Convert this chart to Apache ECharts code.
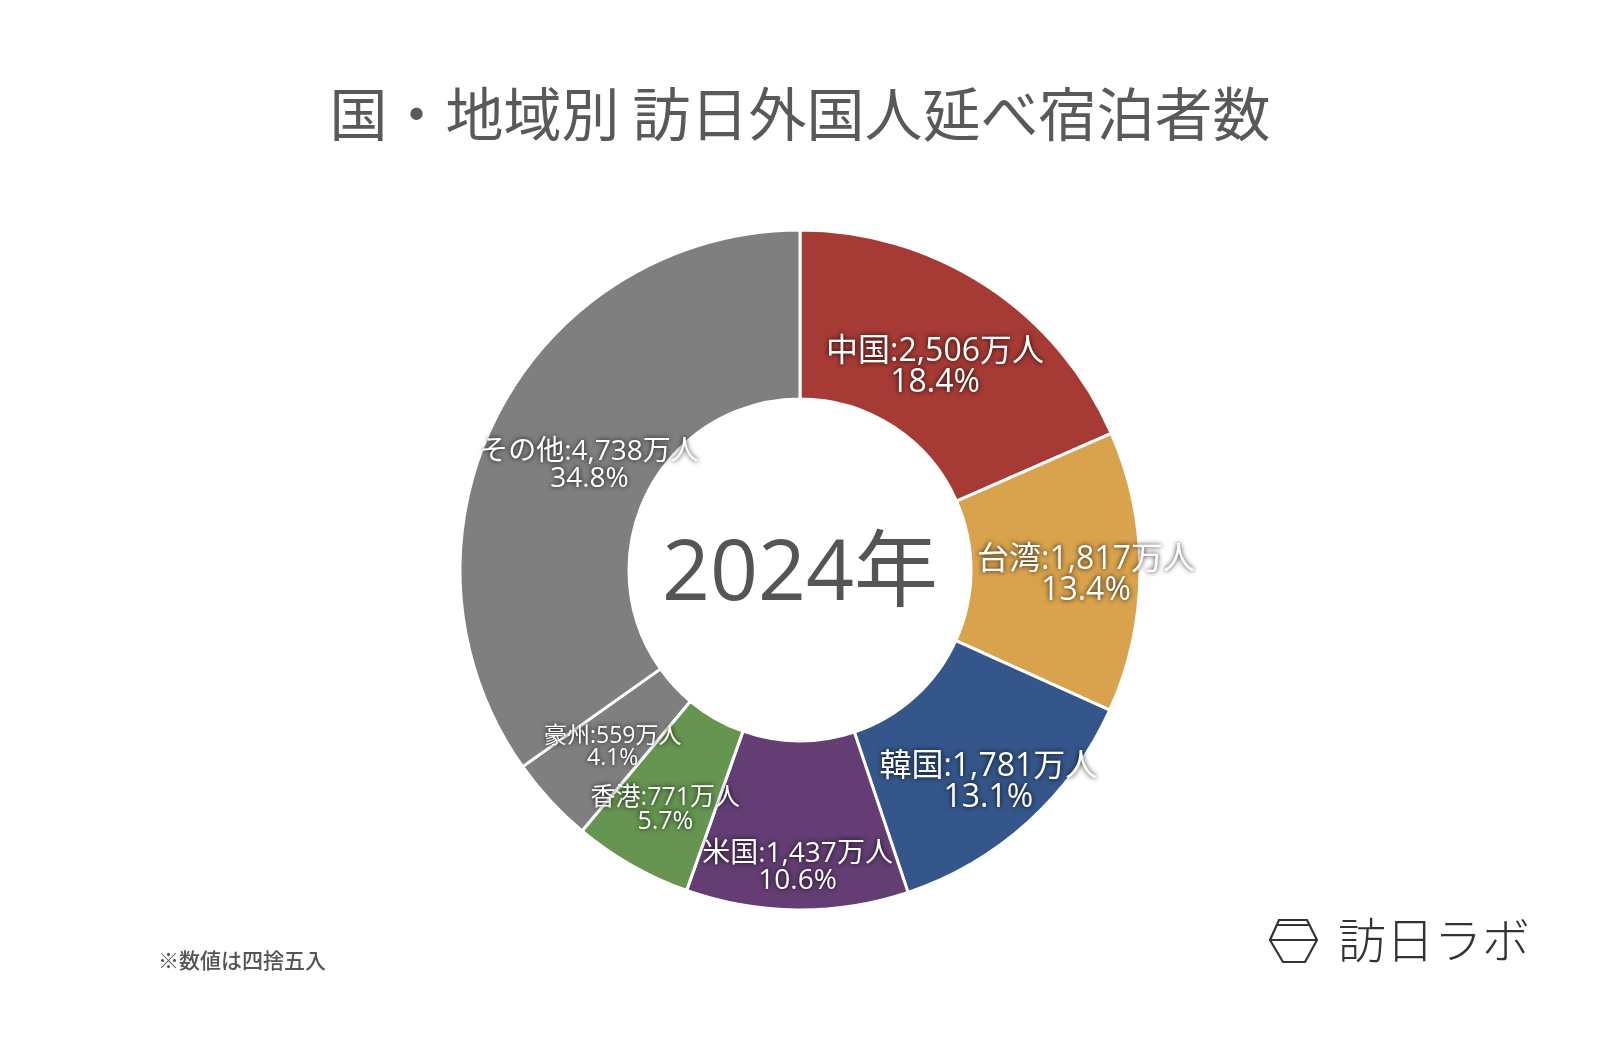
<!DOCTYPE html>
<html>
<head>
<meta charset="utf-8">
<script src="https://cdn.jsdelivr.net/npm/echarts@6/dist/echarts.min.js"></script>
<style>
html,body{margin:0;padding:0;background:#fff;}
#chart{width:1600px;height:1048px;}
</style>
</head>
<body>
<div id="chart"></div>
<script>
// ---- data ----
const categories = ['中国', '台湾', '韓国', '米国', '香港', '豪州', 'その他'];
const values = [2506, 1817, 1781, 1437, 771, 559, 4738]; // 万人
const titleText = '国・地域別 訪日外国人延べ宿泊者数';
const centerText = '2024年';
const noteText = '※数値は四捨五入';
const logoText = '訪日ラボ';

// ---- styles ----
const colors = ['#A63A34', '#D9A24C', '#34568A', '#633D73', '#659550', '#7F7F7F', '#7F7F7F'];
const labelSizes = [32, 32, 32, 28, 25, 23, 28];
const labelRadii = [247, 286, 281, 294, 272, 255, 237];
const CX = 800, CY = 570, R0 = 171, R1 = 340;
const FONT = '"Noto Sans CJK JP", "Noto Sans", sans-serif';
const MIXFONT = '"Open Sans", "Noto Sans CJK JP", sans-serif';

const total = values.reduce((a, b) => a + b, 0);
const fmt = n => n.toLocaleString('en-US');

const chart = echarts.init(document.getElementById('chart'));
chart.setOption({
  backgroundColor: '#ffffff',
  animation: false,
  title: {
    text: titleText,
    left: 'center',
    top: 80,
    textStyle: { fontSize: 58, fontWeight: 'normal', color: '#595959', fontFamily: FONT }
  },
  series: [{
    type: 'pie',
    center: [CX, CY],
    radius: [R0, R1],
    startAngle: 90,
    clockwise: true,
    avoidLabelOverlap: false,
    itemStyle: { borderColor: '#ffffff', borderWidth: 3 },
    label: {
      show: true,
      position: 'inside',
      color: '#ffffff',
      fontFamily: MIXFONT,
      textShadowColor: 'rgba(0,0,0,0.9)',
      textShadowBlur: 5,
      align: 'center',
      formatter: p => p.name + ':' + fmt(p.value) + '万人\n' + (p.value / total * 100).toFixed(1) + '%'
    },
    labelLine: { show: false },
    labelLayout: function (params) {
      const i = params.dataIndex;
      const r = params.labelRect;
      const lx = r.x + r.width / 2, ly = r.y + r.height / 2;
      const dx = lx - CX, dy = ly - CY;
      const d = Math.sqrt(dx * dx + dy * dy) || 1;
      const t = labelRadii[i];
      return { x: CX + dx / d * t, y: CY + dy / d * t + 4, align: 'center', verticalAlign: 'middle' };
    },
    data: categories.map((c, i) => ({
      name: c,
      value: values[i],
      itemStyle: { color: colors[i] },
      label: { fontSize: labelSizes[i], lineHeight: Math.round(labelSizes[i] * 0.97) }
    }))
  }],
  graphic: [
    {
      type: 'text', x: CX, y: CY + 6,
      style: { text: centerText, fontSize: 84, fill: '#555555', fontFamily: MIXFONT, align: 'center', verticalAlign: 'middle' }
    },
    {
      type: 'text', x: 158, y: 960,
      style: { text: noteText, fontSize: 21, fill: '#555555', fontWeight: 500, fontFamily: FONT, align: 'left', verticalAlign: 'middle' }
    },
    {
      type: 'polygon',
      shape: { points: [[1279, 920], [1307, 920], [1317, 940], [1305, 962], [1283, 962], [1270, 940]] },
      style: { fill: 'none', stroke: '#333333', lineWidth: 2.2 }
    },
    {
      type: 'line', shape: { x1: 1277, y1: 925, x2: 1309, y2: 925 },
      style: { stroke: '#333333', lineWidth: 2 }
    },
    {
      type: 'line', shape: { x1: 1270, y1: 940, x2: 1317, y2: 940 },
      style: { stroke: '#333333', lineWidth: 2 }
    },
    {
      type: 'text', x: 1338, y: 940,
      style: { text: logoText, fontSize: 48, fill: '#333333', fontWeight: 200, fontFamily: FONT, align: 'left', verticalAlign: 'middle' }
    }
  ]
});
</script>
</body>
</html>
